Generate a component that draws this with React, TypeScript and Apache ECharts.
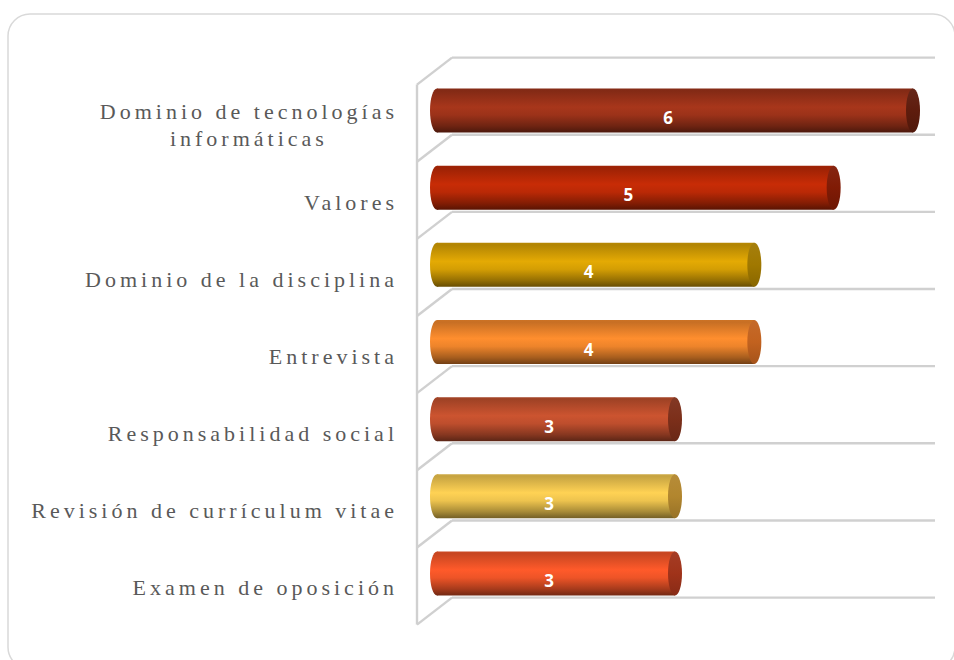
import React, { useEffect, useRef } from "react";
import * as echarts from "echarts";

const categories: string[] = [
  "Dominio de tecnologías\ninformáticas",
  "Valores",
  "Dominio de la disciplina",
  "Entrevista",
  "Responsabilidad social",
  "Revisión de currículum vitae",
  "Examen de oposición",
];
const values: number[] = [6, 5, 4, 4, 3, 3, 3];
const bodyColors: string[] = ["#A8361B", "#C82C06", "#E4AA04", "#FF8E2E", "#CC5430", "#FFD254", "#FF5A2A"];
const capColors: string[] = ["#5E1C0D", "#801B05", "#A07800", "#C2621F", "#7C2F1A", "#B2862E", "#A0331A"];

const LABEL_FONT = '22px "Liberation Serif", "Times New Roman", serif';
const SPACING = 4;

function shade(hex: string, f: number): string {
  const n = parseInt(hex.slice(1), 16);
  const c = [(n >> 16) & 255, (n >> 8) & 255, n & 255].map((v) =>
    Math.max(0, Math.min(255, Math.round(f > 1 ? v + (255 - v) * (f - 1) : v * f)))
  );
  return "#" + c.map((v) => v.toString(16).padStart(2, "0")).join("");
}

function measure(text: string): number {
  const cv = document.createElement("canvas");
  const ctx = cv.getContext("2d") as CanvasRenderingContext2D;
  ctx.font = LABEL_FONT;
  return ctx.measureText(text).width + text.length * SPACING;
}

export default function App() {
  const ref = useRef<HTMLDivElement>(null);
  useEffect(() => {
    if (!ref.current) return;
    const chart = echarts.init(ref.current, null, { renderer: "svg" });
    const firstLines = categories[0].split("\n");
    const w1 = measure(firstLines[0]);

    const option: any = {
      animation: false,
      backgroundColor: "#ffffff",
      graphic: [
        {
          type: "rect",
          z: -10,
          shape: { x: 8, y: 14, width: 947, height: 655, r: 22 },
          style: { fill: "none", stroke: "#D9D9D9", lineWidth: 1.5 },
        },
      ],
      grid: { left: 437, top: 72, width: 476, height: 540 },
      xAxis: { type: "value", min: 0, max: 6, show: false },
      yAxis: { type: "category", inverse: true, data: categories, show: false },
      series: [
        {
          type: "custom",
          z: 1,
          silent: true,
          data: [[0, 0]],
          encode: { x: 0, y: 1 },
          renderItem: (params: any) => {
            const cs = params.coordSys;
            const L = cs.x;
            const T = cs.y;
            const B = cs.height / categories.length;
            const children: any[] = [];
            const st = { stroke: "#D0D0D0", lineWidth: 2.4, fill: "none" };
            for (let i = 0; i <= categories.length; i++) {
              const y = T - 14.4 + B * i;
              children.push({ type: "line", shape: { x1: L + 15, y1: y, x2: L + 498, y2: y }, style: st });
              children.push({ type: "line", shape: { x1: L - 20, y1: y + 27, x2: L + 15, y2: y }, style: st });
            }
            children.push({
              type: "line",
              shape: { x1: L - 20, y1: T - 14.4 + 27, x2: L - 20, y2: T - 14.4 + 27 + B * categories.length },
              style: st,
            });
            return { type: "group", children };
          },
        },
        {
          type: "custom",
          z: 2,
          silent: true,
          data: values.map((v, i) => [v, i]),
          encode: { x: 0, y: 1 },
          renderItem: (params: any, api: any) => {
            const i = params.dataIndex;
            const v = api.value(0);
            const idx = api.value(1);
            const s = api.coord([0, idx]);
            const e = api.coord([v, idx]);
            const band = api.size([0, 1])[1];
            const h = band * 0.57;
            const rx = 7;
            const cy = s[1];
            const c = bodyColors[i];
            const cap = capColors[i];
            const bodyGrad = new echarts.graphic.LinearGradient(0, 0, 0, 1, [
              { offset: 0, color: shade(c, 0.8) },
              { offset: 0.05, color: shade(c, 0.78) },
              { offset: 0.42, color: c },
              { offset: 0.6, color: shade(c, 0.93) },
              { offset: 0.85, color: shade(c, 0.66) },
              { offset: 1, color: shade(c, 0.45) },
            ]);
            const capGrad = new echarts.graphic.LinearGradient(0, 0, 0, 1, [
              { offset: 0, color: shade(cap, 1.05) },
              { offset: 0.5, color: cap },
              { offset: 1, color: shade(cap, 0.85) },
            ]);
            return {
              type: "group",
              children: [
                { type: "ellipse", shape: { cx: s[0], cy, rx, ry: h / 2 }, style: { fill: bodyGrad } },
                { type: "rect", shape: { x: s[0], y: cy - h / 2, width: e[0] - s[0], height: h }, style: { fill: bodyGrad } },
                { type: "ellipse", shape: { cx: e[0], cy, rx, ry: h / 2 }, style: { fill: capGrad } },
                {
                  type: "text",
                  style: {
                    text: String(values[i]),
                    x: (s[0] + e[0]) / 2 - rx,
                    y: cy + 7,
                    align: "center",
                    verticalAlign: "middle",
                    fill: "#ffffff",
                    font: 'bold 17px "Open Sans", "Liberation Sans", sans-serif',
                  },
                },
              ],
            };
          },
        },
        {
          type: "custom",
          z: 3,
          silent: true,
          data: categories.map((_, i) => [0, i]),
          encode: { x: 0, y: 1 },
          renderItem: (params: any, api: any) => {
            const i = params.dataIndex;
            const p = api.coord([0, api.value(1)]);
            const xr = p[0] - 39;
            const y = p[1] + 14.5;
            const lines = categories[i].split("\n");
            if (lines.length === 1) {
              return {
                type: "text",
                style: { text: lines[0], x: xr, y, align: "right", verticalAlign: "middle", fill: "#595959", font: LABEL_FONT },
              };
            }
            const lh = 27;
            const y0 = y - ((lines.length - 1) * lh) / 2;
            return {
              type: "group",
              children: lines.map((ln, k) => ({
                type: "text",
                style: {
                  text: ln,
                  x: k === 0 ? xr : xr - w1 / 2,
                  y: y0 + k * lh,
                  align: k === 0 ? "right" : "center",
                  verticalAlign: "middle",
                  fill: "#595959",
                  font: LABEL_FONT,
                },
              })),
            };
          },
        },
      ],
    };
    chart.setOption(option);
    return () => chart.dispose();
  }, []);
  return (
    <>
      <style>{`#chartbox text[style*="Serif"]{letter-spacing:${SPACING}px}`}</style>
      <div
        id="chartbox"
        ref={ref}
        style={{ position: "fixed", left: 0, top: 0, width: 954, height: 660, background: "#fff" }}
      />
    </>
  );
}
